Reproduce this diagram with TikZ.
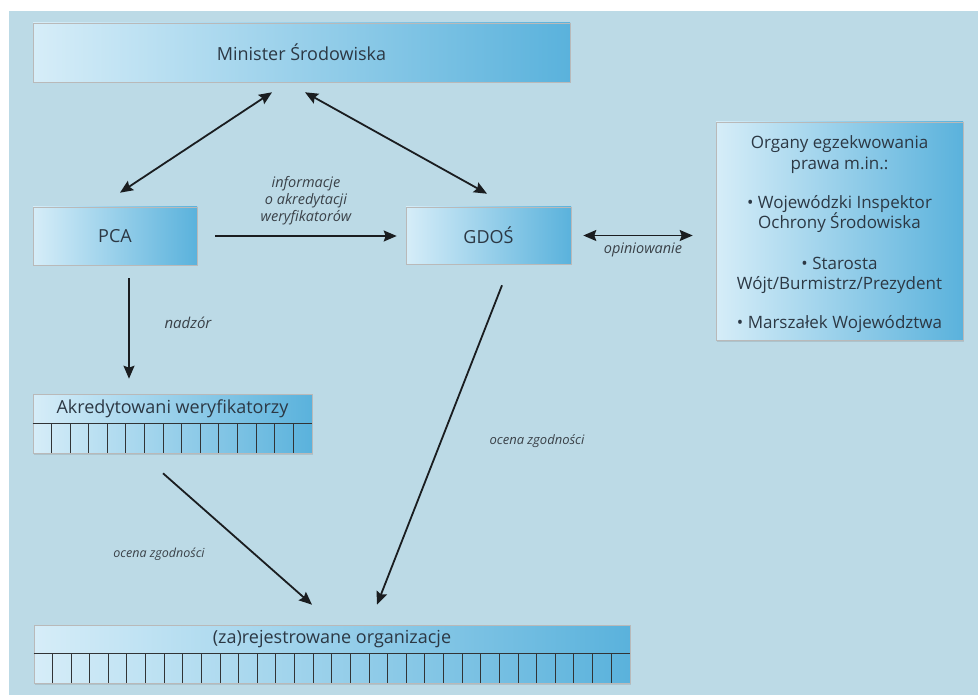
\documentclass[tikz,border=0pt]{standalone}
\usepackage{fontspec}
\setmainfont{Open Sans}
\usetikzlibrary{arrows.meta,shadows,calc}
\definecolor{bgblue}{HTML}{BCDAE6}
\definecolor{boxlight}{HTML}{D6EDF8}
\definecolor{boxdark}{HTML}{5AB2DC}
\definecolor{txt}{HTML}{2C3844}
\definecolor{lbl}{HTML}{3A4148}
\definecolor{arrcol}{HTML}{1A1D20}
\begin{document}
\begin{tikzpicture}[x=1pt,y=-1pt,
  box/.style={draw=gray!55,line width=0.6pt,left color=boxlight,right color=boxdark,
    shading angle=90,drop shadow={opacity=0.25,shadow xshift=1pt,shadow yshift=-1.5pt},
    text=txt,font=\fontsize{18}{21}\selectfont,inner sep=0pt},
  ttl/.style={text=txt,font=\fontsize{18}{21}\selectfont},
  arr/.style={draw=arrcol,line width=1.8pt,-{Stealth[length=13pt,width=11pt,inset=2pt]}},
  darr/.style={draw=arrcol,line width=1.8pt,{Stealth[length=13pt,width=11pt,inset=2pt]}-{Stealth[length=13pt,width=11pt,inset=2pt]}},
  lab/.style={text=lbl,font=\itshape\fontsize{12}{16.5}\selectfont,align=center},
  grid/.style={draw=arrcol!90,line width=0.8pt}]
\useasboundingbox (0,0) rectangle (978,695);
\fill[white] (0,0) rectangle (978,695);
\fill[bgblue] (9,11) rectangle (978,695);

% boxes
\node[box,minimum width=537,minimum height=59] (min) at (301.5,52.5) {Minister Środowiska};
\node[box,minimum width=164,minimum height=58] (pca) at (115,236) {PCA};
\node[box,minimum width=165,minimum height=57] (gdos) at (488.5,235.5) {GDOŚ};
\node[box,minimum width=247,minimum height=218] (org) at (839.5,231) {};
\node[box,minimum width=279,minimum height=59] (akr) at (172.5,423.5) {};
\node[box,minimum width=596,minimum height=58] (reg) at (332,654) {};

% texts of boxes
\node[text=txt,align=center,font=\fontsize{17}{20.5}\selectfont] (orgt) at (839.5,234.5)
 {Organy egzekwowania\\prawa m.in.:\\[18.5pt]• Wojewódzki Inspektor\\Ochrony Środowiska\\[20pt]• Starosta\\Wójt/Burmistrz/Prezydent\\[18.5pt]• Marszałek Województwa};
\node[ttl] (akrt) at (172.5,408.5) {Akredytowani weryfikatorzy};
\node[ttl] (regt) at (332,639.5) {(za)rejestrowane organizacje};

% grids
\draw[grid] (akr.west |- 0,423) -- (akr.east |- 0,423);
\foreach \i in {1,...,14} {\draw[grid] ($(akr.west)+(\i*18.6,-0.5)$) -- ($(akr.south west)+(\i*18.6,0)$);}
\draw[grid] (reg.west |- 0,653) -- (reg.east |- 0,653);
\foreach \i in {1,...,31} {\draw[grid] ($(reg.west)+(\i*18.625,-1)$) -- ($(reg.south west)+(\i*18.625,0)$);}

% connectors
\draw[darr] ([xshift=-29.5pt,yshift=-10pt]min.south) -- ([xshift=5pt,yshift=14pt]pca.north);
\draw[darr] ([xshift=3.5pt,yshift=-10pt]min.south) -- ([xshift=-1.5pt,yshift=13pt]gdos.north);
\draw[arr] ([xshift=18pt]pca.east) -- ([xshift=-9pt]gdos.west |- pca.east);
\draw[darr] ([xshift=12pt]gdos.east) -- ([xshift=-23pt]org.west |- gdos.east);
\draw[arr] ([xshift=14pt,yshift=-13pt]pca.south) -- ([xshift=-43.5pt,yshift=15pt]akr.north);
\draw[arr] ([xshift=-9.5pt,yshift=-20pt]akr.south) -- ([xshift=-20pt,yshift=20pt]reg.north);
\draw[arr] ([xshift=13.5pt,yshift=-21pt]gdos.south) -- ([xshift=45pt,yshift=20pt]reg.north);

% labels
\node[lab,font=\itshape\fontsize{14.5}{17}\selectfont] (l1) at (306,201) {informacje\\o akredytacji\\weryfikatorów};
\node[lab,font=\itshape\fontsize{14.5}{17}\selectfont] (l2) at (643,250) {opiniowanie};
\node[lab,font=\itshape\fontsize{15}{17}\selectfont] (l3) at (188,323) {nadzór};
\node[lab,font=\itshape\fontsize{12.5}{16}\selectfont] (l4) at (159,554) {ocena zgodności};
\node[lab,font=\itshape\fontsize{13}{16}\selectfont] (l5) at (537,441) {ocena zgodności};
\end{tikzpicture}
\end{document}
